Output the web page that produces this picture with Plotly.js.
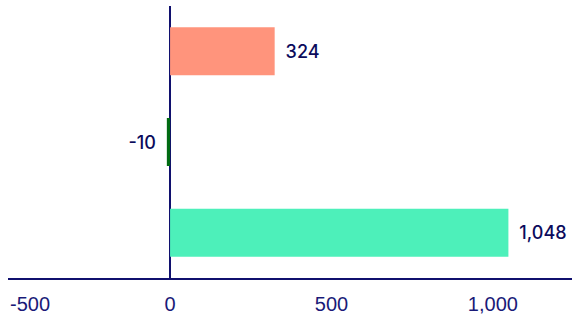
<!DOCTYPE html>
<html>
<head>
<meta charset="utf-8">
<script src="https://cdn.plot.ly/plotly-3.0.1.min.js"></script>
<style>html,body{margin:0;padding:0;background:#fff;}#chart{width:572px;height:315px;}</style>
</head>
<body>
<div id="chart"></div>
<script>
// Data (bottom to top)
var categories = ["C", "B", "A"];
var values = [1048, -10, 324];
var barColors = ["#4DF0BA", "#006B12", "#FF947C"];
var tickValues = [0, 500, 1000];
var tickLabels = ["0", "500", "1,000"];
var firstTickValue = -502;
var firstTickLabel = "-500";

var navy = "#10106E";
var pad = "\u00A0\u2009";
var labels = values.map(function (v) {
  var s = v.toLocaleString("en-US");
  return v < 0 ? s + pad : pad + s;
});

var tickFont = { family: "Liberation Sans, Arial, sans-serif", size: 20, color: "#1A1A78" };

var trace = {
  type: "bar",
  orientation: "h",
  y: categories,
  x: values,
  marker: { color: barColors },
  text: labels,
  textposition: "outside",
  cliponaxis: false,
  textfont: { family: "Inter, sans-serif", size: 18, color: "#0B0B5C", weight: 500 },
  hoverinfo: "none"
};

var layout = {
  width: 572,
  height: 315,
  margin: { l: 8, r: 0, t: 6, b: 37 },
  paper_bgcolor: "#fff",
  plot_bgcolor: "#fff",
  showlegend: false,
  bargap: 0.47,
  xaxis: {
    range: [-502, 1245],
    showgrid: false,
    showline: true,
    linecolor: navy,
    linewidth: 2,
    zeroline: true,
    zerolinecolor: navy,
    zerolinewidth: 2,
    tickvals: tickValues,
    ticktext: tickLabels,
    ticks: "",
    ticklabelstandoff: 7,
    tickfont: tickFont,
    fixedrange: true
  },
  yaxis: {
    showticklabels: false,
    showgrid: false,
    showline: false,
    zeroline: false,
    ticks: "",
    fixedrange: true
  },
  annotations: [{
    x: firstTickValue, xref: "x",
    y: 0, yref: "paper",
    xanchor: "left", yanchor: "top",
    yshift: -13,
    text: firstTickLabel,
    showarrow: false,
    font: tickFont
  }]
};

Plotly.newPlot("chart", [trace], layout, { staticPlot: true, displayModeBar: false });
</script>
</body>
</html>
